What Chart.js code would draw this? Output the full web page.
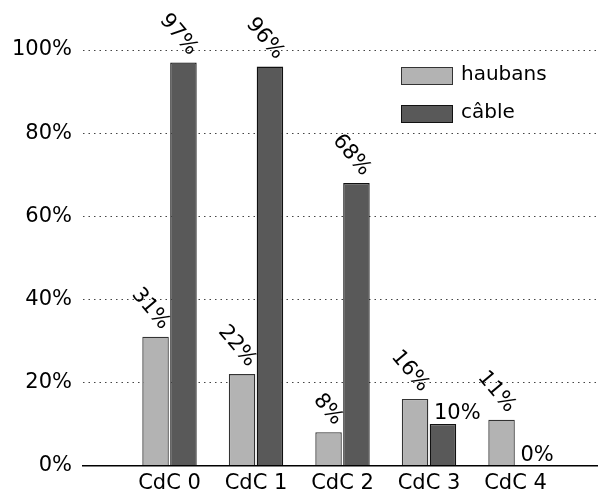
<!DOCTYPE html>
<html>
<head>
<meta charset="utf-8">
<script src="https://cdn.jsdelivr.net/npm/chart.js@4"></script>
<style>
  html, body { margin: 0; padding: 0; background: #fff; overflow: hidden; }
  canvas { display: block; }
</style>
</head>
<body>
<canvas id="chart" width="602" height="493"></canvas>
<script>
// data
const categories = ['', 'CdC 0', 'CdC 1', 'CdC 2', 'CdC 3', 'CdC 4', ''];
const haubans = [null, 31, 22, 8, 16, 11, null];
const cable = [null, 97, 96, 68, 10, 0, null];
const yTicks = [0, 20, 40, 60, 80, 100];

const FONT = '"DejaVu Sans", sans-serif';

// percent labels above bars, mostly tilted
const valueLabels = {
  id: 'valueLabels',
  afterDatasetsDraw(chart) {
    const ctx = chart.ctx;
    ctx.save();
    ctx.fillStyle = '#000';
    ctx.font = '21px ' + FONT;
    chart.data.datasets.forEach((ds, di) => {
      const meta = chart.getDatasetMeta(di);
      meta.data.forEach((bar, i) => {
        const v = ds.data[i];
        if (v === null) return;
        const txt = v + '%';
        if (ds.flatLabel && ds.flatLabel[i]) {
          ctx.textAlign = 'left';
          ctx.textBaseline = 'alphabetic';
          ctx.fillText(txt, bar.x - 9, bar.y - 5);
        } else {
          ctx.save();
          ctx.translate(bar.x + 10, bar.y - 10);
          ctx.rotate(50 * Math.PI / 180);
          ctx.textAlign = 'right';
          ctx.textBaseline = 'middle';
          ctx.fillText(txt, 0, 0);
          ctx.restore();
        }
      });
    });
    ctx.restore();
  }
};

// legend inside the plot, top right
const innerLegend = {
  id: 'innerLegend',
  afterDraw(chart) {
    const ctx = chart.ctx;
    ctx.save();
    ctx.font = '20px ' + FONT;
    ctx.textAlign = 'left';
    ctx.textBaseline = 'middle';
    chart.data.datasets.forEach((ds, di) => {
      const y = 67 + di * 38;
      ctx.fillStyle = ds.backgroundColor;
      ctx.fillRect(401, y, 52, 18);
      ctx.strokeStyle = ds.borderColor;
      ctx.lineWidth = 1;
      ctx.strokeRect(401.5, y + 0.5, 51, 17);
      ctx.fillStyle = '#000';
      ctx.fillText(ds.label, 461, y + 8);
    });
    ctx.restore();
  }
};

new Chart(document.getElementById('chart'), {
  type: 'bar',
  data: {
    labels: categories,
    datasets: [
      {
        label: 'haubans',
        data: haubans,
        backgroundColor: '#b3b3b3',
        borderColor: '#333',
        borderWidth: 1.3,
        flatLabel: [false, false, false, false, false, false, false]
      },
      {
        label: 'câble',
        data: cable,
        backgroundColor: '#595959',
        borderColor: '#111',
        borderWidth: 1.3,
        flatLabel: [false, false, false, false, true, true, false]
      }
    ]
  },
  options: {
    responsive: false,
    animation: false,
    layout: { padding: { top: 50, left: 0, right: 0, bottom: 0 } },
    categoryPercentage: 0.645,
    barPercentage: 0.95,
    plugins: {
      legend: { display: false },
      tooltip: { enabled: false }
    },
    scales: {
      x: {
        offset: false,
        grid: { display: false },
        border: { display: true, color: '#000', width: 1.5 },
        ticks: {
          color: '#000',
          font: { family: FONT, size: 21 },
          padding: -3,
          maxRotation: 0,
          autoSkip: false
        },
        afterFit(scale) { scale.height = 27.5; }
      },
      y: {
        min: 0,
        max: 100,
        afterBuildTicks(scale) { scale.ticks = yTicks.map(v => ({ value: v })); },
        grid: {
          drawTicks: false,
          color: ctx => ctx.tick && ctx.tick.value === 0 ? 'rgba(0,0,0,0)' : '#444',
          lineWidth: 1
        },
        border: { display: false, dash: [1.5, 4] },
        ticks: {
          color: '#000',
          font: { family: FONT, size: 21 },
          padding: 11,
          callback: v => v + '%'
        },
        afterFit(scale) { scale.width = 83; }
      }
    }
  },
  plugins: [valueLabels, innerLegend]
});
</script>
</body>
</html>
